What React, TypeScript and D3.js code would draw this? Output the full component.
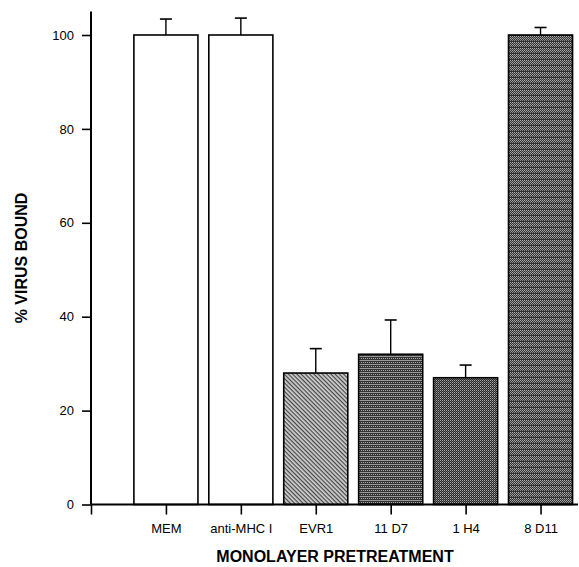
import React, { useRef, useEffect } from "react"
import * as d3 from "d3"

const categories = ["MEM", "anti-MHC I", "EVR1", "11 D7", "1 H4", "8 D11"]
const values = [100, 100, 28, 32, 27, 100]
const errors = [3.4, 3.6, 5.2, 7.3, 2.7, 1.6]
const fills = ["white", "white", "url(#hatch)", "url(#lines)", "url(#checkA)", "url(#checkB)"]
const yTicks = [0, 20, 40, 60, 80, 100]

const W = 579,
  H = 567

function App() {
  const ref = useRef<SVGSVGElement>(null)

  useEffect(() => {
    const svg = d3.select(ref.current)
    svg.selectAll("*").remove()

    const x = d3.scaleLinear().domain([0, 6.5]).range([91, 578])
    const y = d3.scaleLinear().domain([0, 100]).range([504.5, 35])
    const barW = 0.855 * (x(1) - x(0))

    // patterns for the shaded bars
    const defs = svg.append("defs")
    const hatch = defs
      .append("pattern")
      .attr("id", "hatch")
      .attr("patternUnits", "userSpaceOnUse")
      .attr("width", 3)
      .attr("height", 3)
      .attr("patternTransform", "rotate(45)")
    hatch.append("rect").attr("width", 3).attr("height", 3).attr("fill", "#d0d0d0")
    hatch.append("rect").attr("width", 3).attr("height", 1.2).attr("fill", "#444")

    const lines = defs
      .append("pattern")
      .attr("id", "lines")
      .attr("patternUnits", "userSpaceOnUse")
      .attr("width", 2)
      .attr("height", 4)
    lines.append("rect").attr("width", 2).attr("height", 4).attr("fill", "#333")
    lines.append("rect").attr("width", 2).attr("height", 1).attr("fill", "#999")
    lines.append("rect").attr("x", 1).attr("y", 2).attr("width", 1).attr("height", 1).attr("fill", "#aaa")

    const checkA = defs
      .append("pattern")
      .attr("id", "checkA")
      .attr("patternUnits", "userSpaceOnUse")
      .attr("width", 2)
      .attr("height", 2)
    checkA.append("rect").attr("width", 2).attr("height", 2).attr("fill", "#2a2a2a")
    checkA.append("rect").attr("width", 1).attr("height", 1).attr("fill", "#a8a8a8")
    checkA.append("rect").attr("x", 1).attr("y", 1).attr("width", 1).attr("height", 1).attr("fill", "#666")

    const checkB = defs
      .append("pattern")
      .attr("id", "checkB")
      .attr("patternUnits", "userSpaceOnUse")
      .attr("width", 2)
      .attr("height", 6)
    checkB.append("rect").attr("width", 2).attr("height", 6).attr("fill", "#333")
    checkB.append("rect").attr("width", 1).attr("height", 1).attr("fill", "#b0b0b0")
    checkB.append("rect").attr("x", 1).attr("y", 1).attr("width", 1).attr("height", 1).attr("fill", "#888")
    checkB.append("rect").attr("y", 2).attr("width", 1).attr("height", 1).attr("fill", "#aaa")
    checkB.append("rect").attr("x", 1).attr("y", 3).attr("width", 1).attr("height", 1).attr("fill", "#999")
    checkB.append("rect").attr("y", 4).attr("width", 1).attr("height", 1).attr("fill", "#888")

    // bars
    const g = svg.append("g")
    g.selectAll("rect.bar")
      .data(values)
      .join("rect")
      .attr("class", "bar")
      .attr("x", (d, i) => x(i + 1) - barW / 2)
      .attr("y", d => y(d))
      .attr("width", barW)
      .attr("height", d => y(0) - y(d))
      .attr("fill", (d, i) => fills[i])
      .attr("stroke", "#000")
      .attr("stroke-width", 1.6)

    // error bars
    const eb = g.selectAll("g.err").data(values).join("g").attr("class", "err")
    eb.append("line")
      .attr("x1", (d, i) => x(i + 1))
      .attr("x2", (d, i) => x(i + 1))
      .attr("y1", d => y(d))
      .attr("y2", (d, i) => y(d + errors[i]))
      .attr("stroke", "#000")
      .attr("stroke-width", 1.4)
    eb.append("line")
      .attr("x1", (d, i) => x(i + 1) - 6)
      .attr("x2", (d, i) => x(i + 1) + 6)
      .attr("y1", (d, i) => y(d + errors[i]))
      .attr("y2", (d, i) => y(d + errors[i]))
      .attr("stroke", "#000")
      .attr("stroke-width", 1.6)

    // y axis
    const yAxis = svg
      .append("g")
      .attr("transform", `translate(${x(0)},0)`)
      .call(d3.axisLeft(y).tickValues(yTicks).tickSize(9).tickPadding(8))
    yAxis.select(".domain").remove()
    yAxis.append("line")
      .attr("y1", y(105))
      .attr("y2", y(0))
      .attr("stroke", "#000")
      .attr("stroke-width", 2)

    // x axis
    const xAxis = svg
      .append("g")
      .attr("transform", `translate(0,${y(0)})`)
      .call(
        d3
          .axisBottom(x)
          .tickValues([0, 1, 2, 3, 4, 5, 6])
          .tickSize(10)
          .tickPadding(9)
          .tickFormat(d => (+d === 0 ? "" : categories[+d - 1]))
      )
    xAxis.select(".domain").remove()
    xAxis.append("line")
      .attr("x1", x(0))
      .attr("x2", x(6.5))
      .attr("stroke", "#000")
      .attr("stroke-width", 2)

    svg.selectAll(".tick line").attr("stroke", "#000").attr("stroke-width", 1.6)
    svg.selectAll(".tick text")
      .attr("fill", "#000")
      .style("font-family", "'Liberation Sans', Arial, sans-serif")
      .style("font-size", "13px")

    // titles
    svg.append("text")
      .attr("x", 335)
      .attr("y", 562)
      .attr("text-anchor", "middle")
      .style("font-family", "'Liberation Sans', Arial, sans-serif")
      .style("font-size", "16px")
      .style("font-weight", "bold")
      .text("MONOLAYER PRETREATMENT")

    svg.append("text")
      .attr("transform", `translate(27,258) rotate(-90)`)
      .attr("text-anchor", "middle")
      .style("font-family", "'Liberation Sans', Arial, sans-serif")
      .style("font-size", "16px")
      .style("font-weight", "bold")
      .text("% VIRUS BOUND")
  }, [])

  return (
    <svg
      ref={ref}
      width={W}
      height={H}
      style={{ position: "absolute", left: 0, top: 0, background: "white" }}
    ></svg>
  )
}

export default App
